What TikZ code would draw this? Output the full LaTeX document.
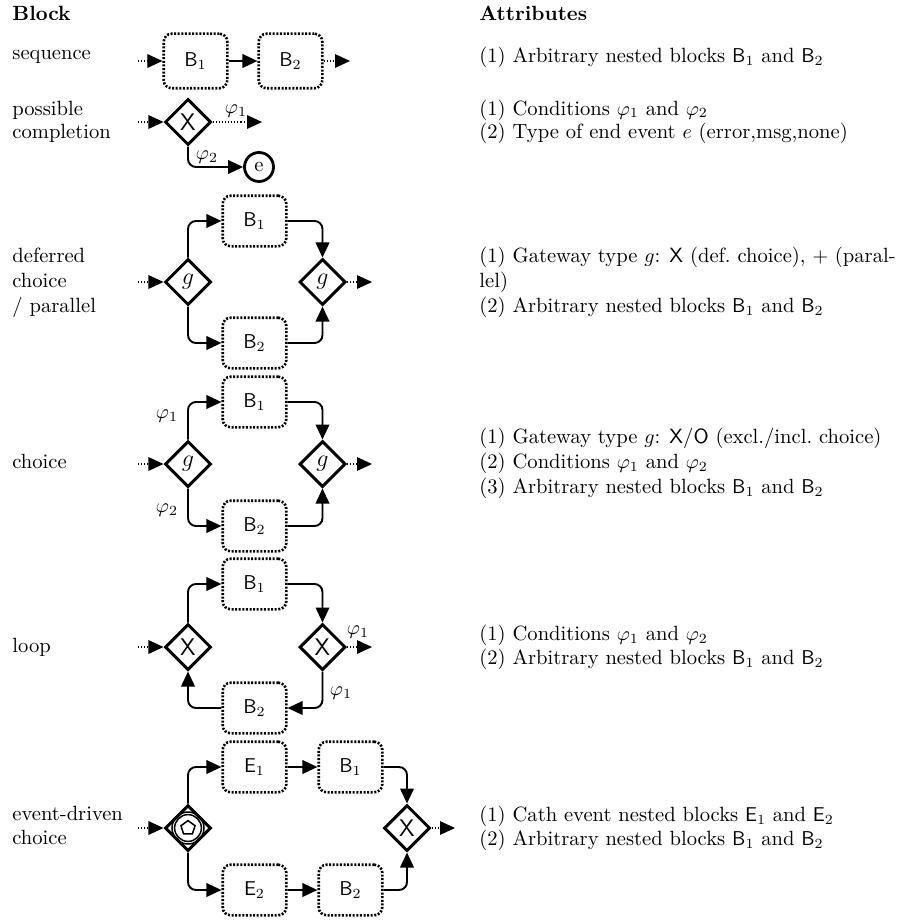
\documentclass[tikz,border=0pt]{standalone}
\usetikzlibrary{arrows.meta,shapes.geometric}
\begin{document}
\fontsize{10.3}{12.5}\selectfont
\begin{tikzpicture}[x=0.5pt,y=-0.5pt,
  blk/.style={draw, line width=1.3pt, dash pattern=on 1pt off 0.8pt, rounded corners=4pt,
    minimum width=31.8pt, minimum height=25.3pt, inner sep=0pt},
  blkt/.style={blk, minimum height=27.3pt},
  gw/.style={draw, diamond, aspect=1, line width=1.5pt, minimum width=23pt, minimum height=23pt, inner sep=0pt},
  endev/.style={draw, circle, line width=1.4pt, minimum size=14.5pt, inner sep=0pt},
  conn/.style={line width=0.95pt, rounded corners=4pt, -{Triangle[length=7.5pt,width=6.8pt]}},
  dconn/.style={line width=0.55pt, dash pattern=on 0.55pt off 1pt, -{Triangle[length=7.5pt,width=6.8pt]}},
  lbl/.style={anchor=base west, inner sep=0pt},
  cond/.style={inner sep=0pt},
  gx/.style={font=\large\sffamily},
  gg/.style={font=\large},
]
\useasboundingbox (0,0) rectangle (897,920);

% headers
\node[lbl, font=\bfseries] (hBlock) at (12,21) {Block};
\node[lbl, font=\bfseries] (hAttr) at (479,21) {Attributes};

% ---------- sequence
\node[lbl] (lSeq) at (12,60) {sequence};
\node[blkt] (sB1) at (195.5,61) {$\mathsf{B}_1$};
\node[blkt] (sB2) at (290.5,61) {$\mathsf{B}_2$};
\coordinate (sIn) at (138,61);
\coordinate (sOut) at (350,61);
\draw[dconn] (sIn) -- (sB1);
\draw[conn] (sB1) -- (sB2);
\draw[dconn] (sB2) -- (sOut);
\node[lbl] (aSeq) at (479,63) {(1) Arbitrary nested blocks $\mathsf{B}_1$ and $\mathsf{B}_2$};

% ---------- possible completion
\node[lbl] (lPos1) at (12,115) {possible};
\node[lbl] (lPos2) at (12,139) {completion};
\node[gw, gx] (pX) at (188,122) {X};
\node[endev] (pE) at (259,167) {e};
\coordinate (pIn) at (138,122);
\coordinate (pOut) at (262,122);
\draw[dconn] (pIn) -- (pX);
\draw[dconn] (pX) -- (pOut);
\draw[conn] (pX.south) |- (pE);
\node[cond] (pPhi1) at (236,111) {$\varphi_1$};
\node[cond] (pPhi2) at (207,157) {$\varphi_2$};
\node[lbl] (aPos1) at (479,115) {(1) Conditions $\varphi_1$ and $\varphi_2$};
\node[lbl] (aPos2) at (479,139) {(2) Type of end event $e$ (error,msg,none)};

% ---------- deferred choice / parallel
\node[lbl] (lDef1) at (12,262) {deferred};
\node[lbl] (lDef2) at (12,287) {choice};
\node[lbl] (lDef3) at (12,312) {/ parallel};
\node[gw, gg] (dS) at (188,282) {$g$};
\node[blk] (dB1) at (254.5,221) {$\mathsf{B}_1$};
\node[blk] (dB2) at (254.5,343) {$\mathsf{B}_2$};
\node[gw, gg] (dJ) at (322.5,282) {$g$};
\coordinate (dIn) at (138,282);
\coordinate (dOut) at (372,282);
\draw[dconn] (dIn) -- (dS);
\draw[conn] (dS.north) |- (dB1);
\draw[conn] (dS.south) |- (dB2);
\draw[conn] (dB1) -| (dJ);
\draw[conn] (dB2) -| (dJ);
\draw[dconn] (dJ) -- (dOut);
\node[lbl] (aDef1) at (479,262) {(1) Gateway type $g$: \textsf{X} (def.\ choice), $+$ (paral-};
\node[lbl] (aDef2) at (479,287) {lel)};
\node[lbl] (aDef3) at (479,312) {(2) Arbitrary nested blocks $\mathsf{B}_1$ and $\mathsf{B}_2$};

% ---------- choice
\node[lbl] (lCho) at (12,468) {choice};
\node[gw, gg] (cS) at (188,464) {$g$};
\node[blk] (cB1) at (254.5,402) {$\mathsf{B}_1$};
\node[blk] (cB2) at (254.5,526) {$\mathsf{B}_2$};
\node[gw, gg] (cJ) at (322.5,464) {$g$};
\coordinate (cIn) at (138,464);
\coordinate (cOut) at (372,464);
\draw[dconn] (cIn) -- (cS);
\draw[conn] (cS.north) |- (cB1);
\draw[conn] (cS.south) |- (cB2);
\draw[conn] (cB1) -| (cJ);
\draw[conn] (cB2) -| (cJ);
\draw[dconn] (cJ) -- (cOut);
\node[cond] (cPhi1) at (167,416) {$\varphi_1$};
\node[cond] (cPhi2) at (167,510) {$\varphi_2$};
\node[lbl] (aCho1) at (479,443) {(1) Gateway type $g$: \textsf{X/O} (excl./incl.\ choice)};
\node[lbl] (aCho2) at (479,468) {(2) Conditions $\varphi_1$ and $\varphi_2$};
\node[lbl] (aCho3) at (479,493) {(3) Arbitrary nested blocks $\mathsf{B}_1$ and $\mathsf{B}_2$};

% ---------- loop
\node[lbl] (lLoop) at (12,652) {loop};
\node[gw, gx] (lS) at (188,647) {X};
\node[blk] (lB1) at (254.5,584) {$\mathsf{B}_1$};
\node[blk] (lB2) at (254.5,708) {$\mathsf{B}_2$};
\node[gw, gx] (lJ) at (322.5,647) {X};
\coordinate (lIn) at (138,647);
\coordinate (lOut) at (372,647);
\draw[dconn] (lIn) -- (lS);
\draw[conn] (lS.north) |- (lB1);
\draw[conn] (lB1) -| (lJ);
\draw[dconn] (lJ) -- (lOut);
\draw[conn] (lJ.south) |- (lB2);
\draw[conn] (lB2) -| (lS);
\node[cond] (lPhi1) at (358,632) {$\varphi_1$};
\node[cond] (lPhi2) at (341,693) {$\varphi_1$};
\node[lbl] (aLoop1) at (479,640) {(1) Conditions $\varphi_1$ and $\varphi_2$};
\node[lbl] (aLoop2) at (479,664) {(2) Arbitrary nested blocks $\mathsf{B}_1$ and $\mathsf{B}_2$};

% ---------- event-driven choice
\node[lbl] (lEv1) at (12,820) {event-driven};
\node[lbl] (lEv2) at (12,844) {choice};
\node[gw] (eS) at (188,828) {};
\draw[line width=0.75pt] (eS.center) circle[radius=8pt];
\draw[line width=0.75pt] (eS.center) circle[radius=6.7pt];
\draw[line width=0.75pt, shift={(eS.center)}] (90:3.7pt) -- (162:3.7pt) -- (234:3.7pt) -- (306:3.7pt) -- (18:3.7pt) -- cycle;
\node[blk] (eE1) at (254.5,767) {$\mathsf{E}_1$};
\node[blk] (eE2) at (254.5,890) {$\mathsf{E}_2$};
\node[blk] (eB1) at (350.5,767) {$\mathsf{B}_1$};
\node[blk] (eB2) at (350.5,890) {$\mathsf{B}_2$};
\node[gw, gx] (eJ) at (407,828) {X};
\coordinate (eIn) at (138,828);
\coordinate (eOut) at (455,828);
\draw[dconn] (eIn) -- (eS);
\draw[conn] (eS.north) |- (eE1);
\draw[conn] (eS.south) |- (eE2);
\draw[conn] (eE1) -- (eB1);
\draw[conn] (eE2) -- (eB2);
\draw[conn] (eB1) -| (eJ);
\draw[conn] (eB2) -| (eJ);
\draw[dconn] (eJ) -- (eOut);
\node[lbl] (aEv1) at (479,821) {(1) Cath event nested blocks $\mathsf{E}_1$ and $\mathsf{E}_2$};
\node[lbl] (aEv2) at (479,845) {(2) Arbitrary nested blocks $\mathsf{B}_1$ and $\mathsf{B}_2$};
\end{tikzpicture}
\end{document}
